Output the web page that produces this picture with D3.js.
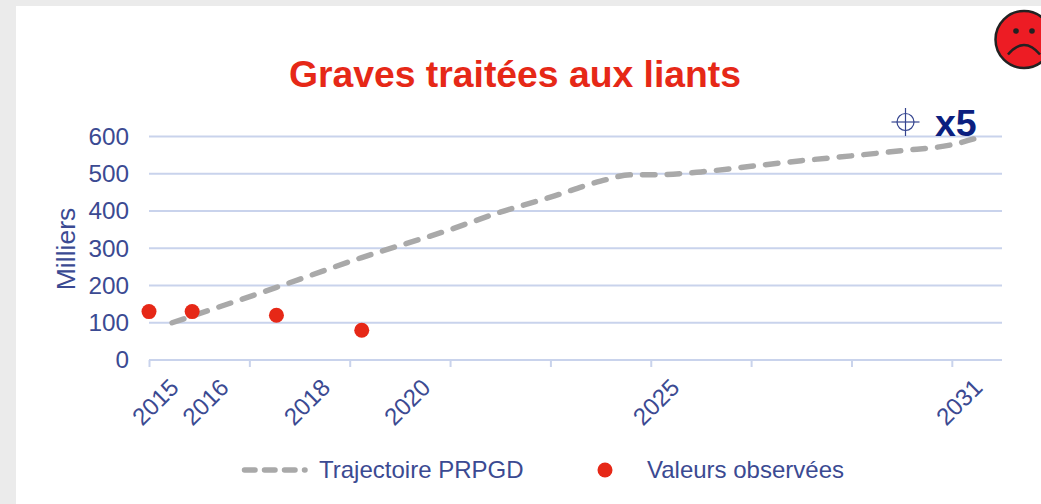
<!DOCTYPE html>
<html>
<head>
<meta charset="utf-8">
<script src="https://cdn.jsdelivr.net/npm/d3@7"></script>
<style>
  html, body { margin: 0; padding: 0; background: #ebebeb; overflow: hidden; }
  text { font-family: "Liberation Sans", Arial, sans-serif; }
</style>
</head>
<body>
<script>
// valeurs (x = position sur l'axe, en graduations)
var yTicks = [0, 100, 200, 300, 400, 500, 600]
var axisTicks = [0, 1, 2, 3, 4, 5, 6, 7, 8]
var yearLabels = ['2015', '2016', '2018', '2020', '2025', '2031']
var yearSlots = [0.31, 0.81, 1.82, 2.82, 5.3, 8.32]
var trajX = [0.23, 1.27, 2.12, 3, 3.5, 4, 4.5, 4.8, 5, 5.5, 6, 6.5, 7, 7.5, 8, 8.3]
var trajY = [100, 195, 275, 350, 397, 437, 480, 497, 497, 505, 520, 535, 548, 562, 578, 600]
var obsX = [0, 0.43, 1.27, 2.12]
var obsY = [130, 130, 120, 80]

var width = 1041, height = 504
var textColor = '#3b4a92', gridColor = '#c9d3ec', red = '#e62817'

var svg = d3.select('body').append('svg')
  .attr('width', width)
  .attr('height', height)
  .style('display', 'block')

// fond blanc
svg.append('rect')
  .attr('x', 16).attr('y', 6)
  .attr('width', width - 16).attr('height', height - 6)
  .attr('fill', '#fff')

var x = d3.scaleLinear().domain([0, 8.5]).range([149, 1002])
var y = d3.scaleLinear().domain([0, 600]).range([360, 136.5])

// axe y + grille
var yAxis = svg.append('g')
  .attr('transform', 'translate(149,0)')
  .call(d3.axisLeft(y).tickValues(yTicks).tickSize(0).tickPadding(20))
yAxis.select('.domain').remove()
yAxis.selectAll('text')
  .attr('fill', textColor)
  .style('font-size', '24.3px')

svg.selectAll('.grid')
  .data(yTicks)
  .enter()
  .append('line')
  .attr('class', 'grid')
  .attr('x1', x(0)).attr('x2', x(8.5))
  .attr('y1', d => y(d)).attr('y2', d => y(d))
  .attr('stroke', gridColor)
  .attr('stroke-width', 2)

// axe x
var xAxis = svg.append('g')
  .attr('transform', 'translate(0,' + y(0) + ')')
  .call(d3.axisBottom(x).tickValues(axisTicks).tickSize(7).tickFormat(''))
xAxis.select('.domain').remove()
xAxis.selectAll('line').attr('stroke', gridColor).attr('stroke-width', 2)

svg.selectAll('.year')
  .data(yearLabels)
  .enter()
  .append('text')
  .attr('class', 'year')
  .attr('text-anchor', 'end')
  .attr('transform', (d, i) => 'translate(' + x(yearSlots[i]) + ',389) rotate(-45)')
  .attr('fill', textColor)
  .style('font-size', '24px')
  .text(d => d)

// trajectoire
var line = d3.line()
  .x(d => x(d[0]))
  .y(d => y(d[1]))
  .curve(d3.curveMonotoneX)

svg.append('path')
  .attr('d', line(d3.zip(trajX, trajY)))
  .attr('fill', 'none')
  .attr('stroke', '#a9a9a9')
  .attr('stroke-width', 5.5)
  .attr('stroke-linecap', 'round')
  .attr('stroke-dasharray', '12.5 12.2')

// valeurs observées
svg.selectAll('.obs')
  .data(d3.zip(obsX, obsY))
  .enter()
  .append('circle')
  .attr('class', 'obs')
  .attr('cx', d => x(d[0]))
  .attr('cy', d => y(d[1]))
  .attr('r', 7.5)
  .attr('fill', red)

// titres
svg.append('text')
  .attr('x', 515).attr('y', 87)
  .attr('text-anchor', 'middle')
  .attr('fill', red)
  .style('font-size', '37.3px')
  .style('font-weight', 'bold')
  .text('Graves traitées aux liants')

svg.append('text')
  .attr('transform', 'translate(75,249) rotate(-90)')
  .attr('text-anchor', 'middle')
  .attr('fill', textColor)
  .style('font-size', '26.5px')
  .text('Milliers')

// légende
svg.append('line')
  .attr('x1', 244.5).attr('x2', 305)
  .attr('y1', 470).attr('y2', 470)
  .attr('stroke', '#a9a9a9')
  .attr('stroke-width', 5.5)
  .attr('stroke-linecap', 'round')
  .attr('stroke-dasharray', '10.5 9.5')

svg.append('text')
  .attr('x', 319).attr('y', 478)
  .attr('fill', textColor)
  .style('font-size', '24px')
  .text('Trajectoire PRPGD')

svg.append('circle')
  .attr('cx', 605).attr('cy', 470).attr('r', 7.5)
  .attr('fill', red)

svg.append('text')
  .attr('x', 647).attr('y', 478)
  .attr('fill', textColor)
  .style('font-size', '24px')
  .text('Valeurs observées')

// cible + x5
var target = svg.append('g')
  .attr('transform', 'translate(905.5,122)')
  .attr('fill', 'none')
  .attr('stroke', '#34448f')
  .attr('stroke-width', 1.2)
target.append('circle').attr('r', 8.5)
target.append('line').attr('x1', -14).attr('x2', 14)
target.append('line').attr('y1', -14).attr('y2', 14)

svg.append('text')
  .attr('x', 935).attr('y', 136)
  .attr('fill', '#0b1f80')
  .style('font-size', '37.5px')
  .style('font-weight', 'bold')
  .text('x5')

// smiley
var smiley = svg.append('g').attr('transform', 'translate(1024,39.5)')
smiley.append('circle')
  .attr('r', 28.5)
  .attr('fill', '#ed1c24')
  .attr('stroke', '#222')
  .attr('stroke-width', 2.5)
smiley.selectAll('.eye')
  .data([-8, 8])
  .enter()
  .append('circle')
  .attr('class', 'eye')
  .attr('cx', d => d)
  .attr('cy', -8.5)
  .attr('r', 2.8)
  .attr('fill', '#222')
smiley.append('path')
  .attr('d', 'M -16 15 Q 0 -4 16 15')
  .attr('fill', 'none')
  .attr('stroke', '#222')
  .attr('stroke-width', 2.5)
</script>
</body>
</html>
